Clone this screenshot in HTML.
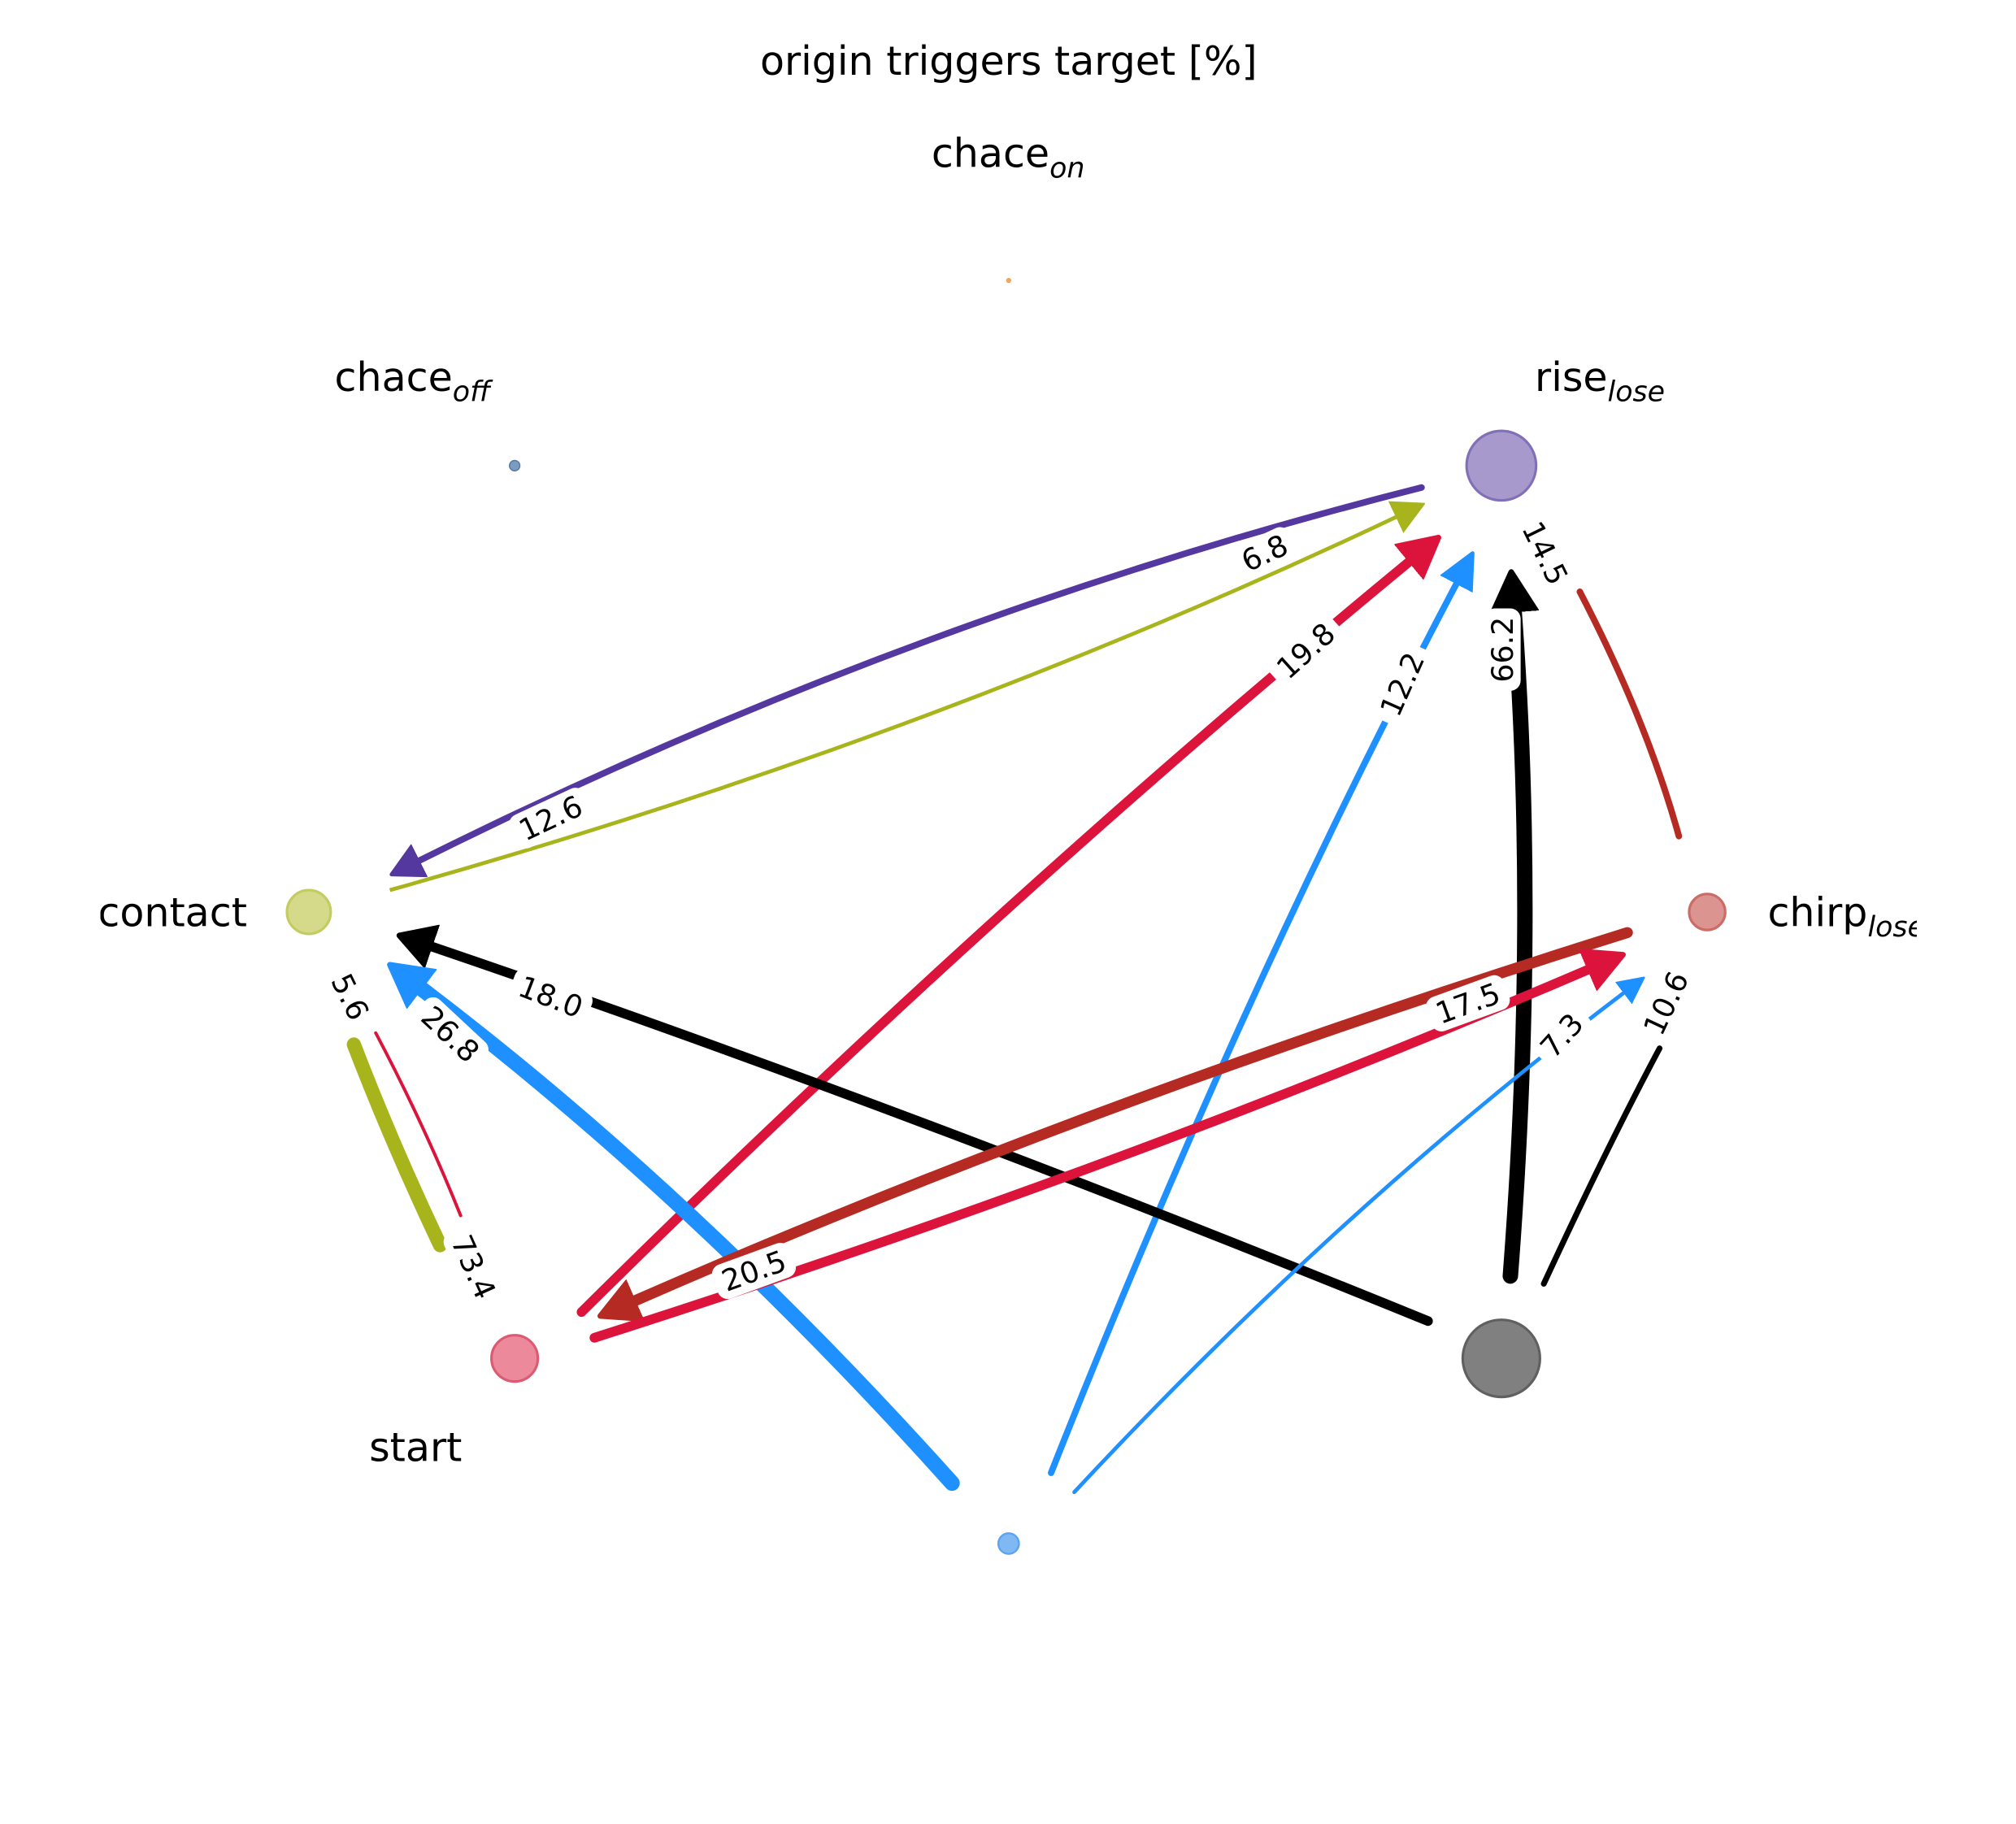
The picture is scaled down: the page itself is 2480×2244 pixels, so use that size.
<!DOCTYPE html>
<html><head><meta charset="utf-8"><style>
html,body{margin:0;padding:0;background:#fff;width:2480px;height:2244px;overflow:hidden}
svg{display:block}
text{font-family:"DejaVu Sans","Liberation Sans",sans-serif}
</style></head><body>
<svg width="2480" height="2244" viewBox="0 0 1567 1418" xmlns="http://www.w3.org/2000/svg">
<defs>
<marker id="mPu" markerUnits="userSpaceOnUse" markerWidth="40" markerHeight="40" refX="0" refY="20" orient="auto" viewBox="0 6 28 28"><path d="M0,11 L17,20 L0,29 Z" fill="#5438a0" stroke="#5438a0" stroke-width="2" stroke-linejoin="round"/></marker>
<marker id="mOl" markerUnits="userSpaceOnUse" markerWidth="40" markerHeight="40" refX="0" refY="20" orient="auto" viewBox="0 6 28 28"><path d="M0,11 L17,20 L0,29 Z" fill="#a8b41c" stroke="#a8b41c" stroke-width="1" stroke-linejoin="round"/></marker>
<marker id="mRe" markerUnits="userSpaceOnUse" markerWidth="40" markerHeight="40" refX="0" refY="20" orient="auto" viewBox="0 6 28 28"><path d="M0,9 L21,20 L0,31 Z" fill="#dc143c" stroke="#dc143c" stroke-width="3" stroke-linejoin="round"/></marker>
<marker id="mBl" markerUnits="userSpaceOnUse" markerWidth="40" markerHeight="40" refX="0" refY="20" orient="auto" viewBox="0 6 28 28"><path d="M0,11 L19,20 L0,29 Z" fill="#1e90ff" stroke="#1e90ff" stroke-width="2" stroke-linejoin="round"/></marker>
<marker id="mBlB" markerUnits="userSpaceOnUse" markerWidth="40" markerHeight="40" refX="0" refY="20" orient="auto" viewBox="0 6 28 28"><path d="M0,8 L22,20 L0,32 Z" fill="#1e90ff" stroke="#1e90ff" stroke-width="3" stroke-linejoin="round"/></marker>
<marker id="mBls" markerUnits="userSpaceOnUse" markerWidth="40" markerHeight="40" refX="0" refY="20" orient="auto" viewBox="0 6 28 28"><path d="M0,13 L14,20 L0,27 Z" fill="#1e90ff" stroke="#1e90ff" stroke-width="1" stroke-linejoin="round"/></marker>
<marker id="mBk" markerUnits="userSpaceOnUse" markerWidth="40" markerHeight="40" refX="0" refY="20" orient="auto" viewBox="0 6 28 28"><path d="M0,9 L19,20 L0,31 Z" fill="#000" stroke="#000" stroke-width="3" stroke-linejoin="round"/></marker>
<marker id="mBkB" markerUnits="userSpaceOnUse" markerWidth="40" markerHeight="40" refX="0" refY="20" orient="auto" viewBox="0 6 28 28"><path d="M0,8 L22,20 L0,32 Z" fill="#000" stroke="#000" stroke-width="3" stroke-linejoin="round"/></marker>
<marker id="mBr" markerUnits="userSpaceOnUse" markerWidth="40" markerHeight="40" refX="0" refY="20" orient="auto" viewBox="0 6 28 28"><path d="M0,9 L21,20 L0,31 Z" fill="#b52a22" stroke="#b52a22" stroke-width="3" stroke-linejoin="round"/></marker>
</defs>
<rect width="1567" height="1418" fill="#fff"/>

<g fill="none" stroke-linecap="round">
<path d="M1105,379 Q705,480 326,669" stroke="#5438a0" stroke-width="5" marker-end="url(#mPu)"/>
<path d="M303,692 Q720,575 1085,402" stroke="#a8b41c" stroke-width="3" stroke-linecap="butt" marker-end="url(#mOl)"/>
<path d="M452,1020 Q770,705 1095,437" stroke="#dc143c" stroke-width="7.5" marker-end="url(#mRe)"/>
<path d="M817,1145 Q965,770 1132,454" stroke="#1e90ff" stroke-width="5" marker-end="url(#mBl)"/>
<path d="M1174,992 Q1195,720 1177,476" stroke="#000" stroke-width="12" marker-end="url(#mBkB)"/>
<path d="M1305,650 Q1280,560 1228,460" stroke="#b52a22" stroke-width="5"/>
<path d="M1110,1027 Q700,860 336,736" stroke="#000" stroke-width="7.5" marker-end="url(#mBk)"/>
<path d="M740,1153 Q540,930 328,769" stroke="#1e90ff" stroke-width="12" marker-end="url(#mBlB)"/>
<path d="M275,812 Q305,890 342,968" stroke="#a8b41c" stroke-width="11"/>
<path d="M358,945 Q330,875 292,803" stroke="#dc143c" stroke-width="2.5"/>
<path d="M1265,725 Q850,855 494,1011" stroke="#b52a22" stroke-width="8.5" marker-end="url(#mBr)"/>
<path d="M462,1040 Q870,910 1234,754" stroke="#dc143c" stroke-width="7.5" marker-end="url(#mRe)"/>
<path d="M835,1160 Q1040,940 1262,772" stroke="#1e90ff" stroke-width="3" marker-end="url(#mBls)"/>
<path d="M1200,998 Q1250,890 1290,815" stroke="#000" stroke-width="4.5"/>
</g>

<circle cx="784" cy="218" r="2" fill="#f4a460"/>
<circle cx="400" cy="362" r="4" fill="#7a9cc0" stroke="#5a7ca0" stroke-width="1"/>
<circle cx="1167" cy="362" r="27" fill="#a899cc" stroke="#8170b8" stroke-width="2"/>
<circle cx="240" cy="709" r="17" fill="#d4da8a" stroke="#c2cc60" stroke-width="2"/>
<circle cx="1327" cy="709" r="14" fill="#dc9490" stroke="#cc6c66" stroke-width="2"/>
<circle cx="400" cy="1056" r="18" fill="#ec8a9c" stroke="#dc5a72" stroke-width="2"/>
<circle cx="784" cy="1200" r="8" fill="#80b8f4" stroke="#5aa4f0" stroke-width="1.5"/>
<circle cx="1167" cy="1056" r="30" fill="#808080" stroke="#606060" stroke-width="2"/>

<g font-size="23" text-anchor="middle" fill="#000">
<g transform="translate(428,636) rotate(-25)"><rect x="-32" y="-14" width="64" height="28" rx="8" fill="#fff"/><text y="8">12.6</text></g>
<g transform="translate(983,430) rotate(-25)"><rect x="-24" y="-14" width="48" height="28" rx="8" fill="#fff"/><text y="8">6.8</text></g>
<g transform="translate(1015,506) rotate(-42)"><rect x="-32" y="-14" width="64" height="28" rx="8" fill="#fff"/><text y="8">19.8</text></g>
<g transform="translate(1090,532) rotate(-66)"><rect x="-32" y="-14" width="64" height="28" rx="8" fill="#fff"/><text y="8">12.2</text></g>
<g transform="translate(1168,505) rotate(-90)"><rect x="-32" y="-14" width="64" height="28" rx="8" fill="#fff"/><text y="8">66.2</text></g>
<g transform="translate(1201,430) rotate(64)"><rect x="-32" y="-14" width="64" height="28" rx="8" fill="#fff"/><text y="8">14.5</text></g>
<g transform="translate(428,775) rotate(21)"><rect x="-32" y="-14" width="64" height="28" rx="8" fill="#fff"/><text y="8">18.0</text></g>
<g transform="translate(350,804) rotate(43)"><rect x="-32" y="-14" width="64" height="28" rx="8" fill="#fff"/><text y="8">26.8</text></g>
<g transform="translate(272,775) rotate(64)"><rect x="-24" y="-14" width="48" height="28" rx="8" fill="#fff"/><text y="8">5.6</text></g>
<g transform="translate(368,985) rotate(66)"><rect x="-32" y="-14" width="64" height="28" rx="8" fill="#fff"/><text y="8">73.4</text></g>
<g transform="translate(1141,780) rotate(-20)"><rect x="-32" y="-14" width="64" height="28" rx="8" fill="#fff"/><text y="8">17.5</text></g>
<g transform="translate(586,988) rotate(-20)"><rect x="-32" y="-14" width="64" height="28" rx="8" fill="#fff"/><text y="8">20.5</text></g>
<g transform="translate(1214,805) rotate(-48)"><rect x="-24" y="-14" width="48" height="28" rx="8" fill="#fff"/><text y="8">7.3</text></g>
<g transform="translate(1295,780) rotate(-65)"><rect x="-32" y="-14" width="64" height="28" rx="8" fill="#fff"/><text y="8">10.6</text></g>
</g>

<g font-size="31" fill="#000">
<text x="784" y="58" text-anchor="middle">origin triggers target [%]</text>
<text x="724" y="130">chace<tspan font-size="22" font-style="italic" dy="8">on</tspan></text>
<text x="260" y="304">chace<tspan font-size="22" font-style="italic" dy="8">off</tspan></text>
<text x="1193" y="304">rise<tspan font-size="22" font-style="italic" dy="8">lose</tspan></text>
<svg x="78" y="670" width="1412" height="80" viewBox="78 670 1412 80" overflow="hidden">
<text x="192" y="720" text-anchor="end">contact</text>
<text x="1374" y="720">chirp<tspan font-size="22" font-style="italic" dy="8">lose</tspan></text>
</svg>
<text x="323" y="1136" text-anchor="middle">start</text>
</g>
</svg>
</body></html>
